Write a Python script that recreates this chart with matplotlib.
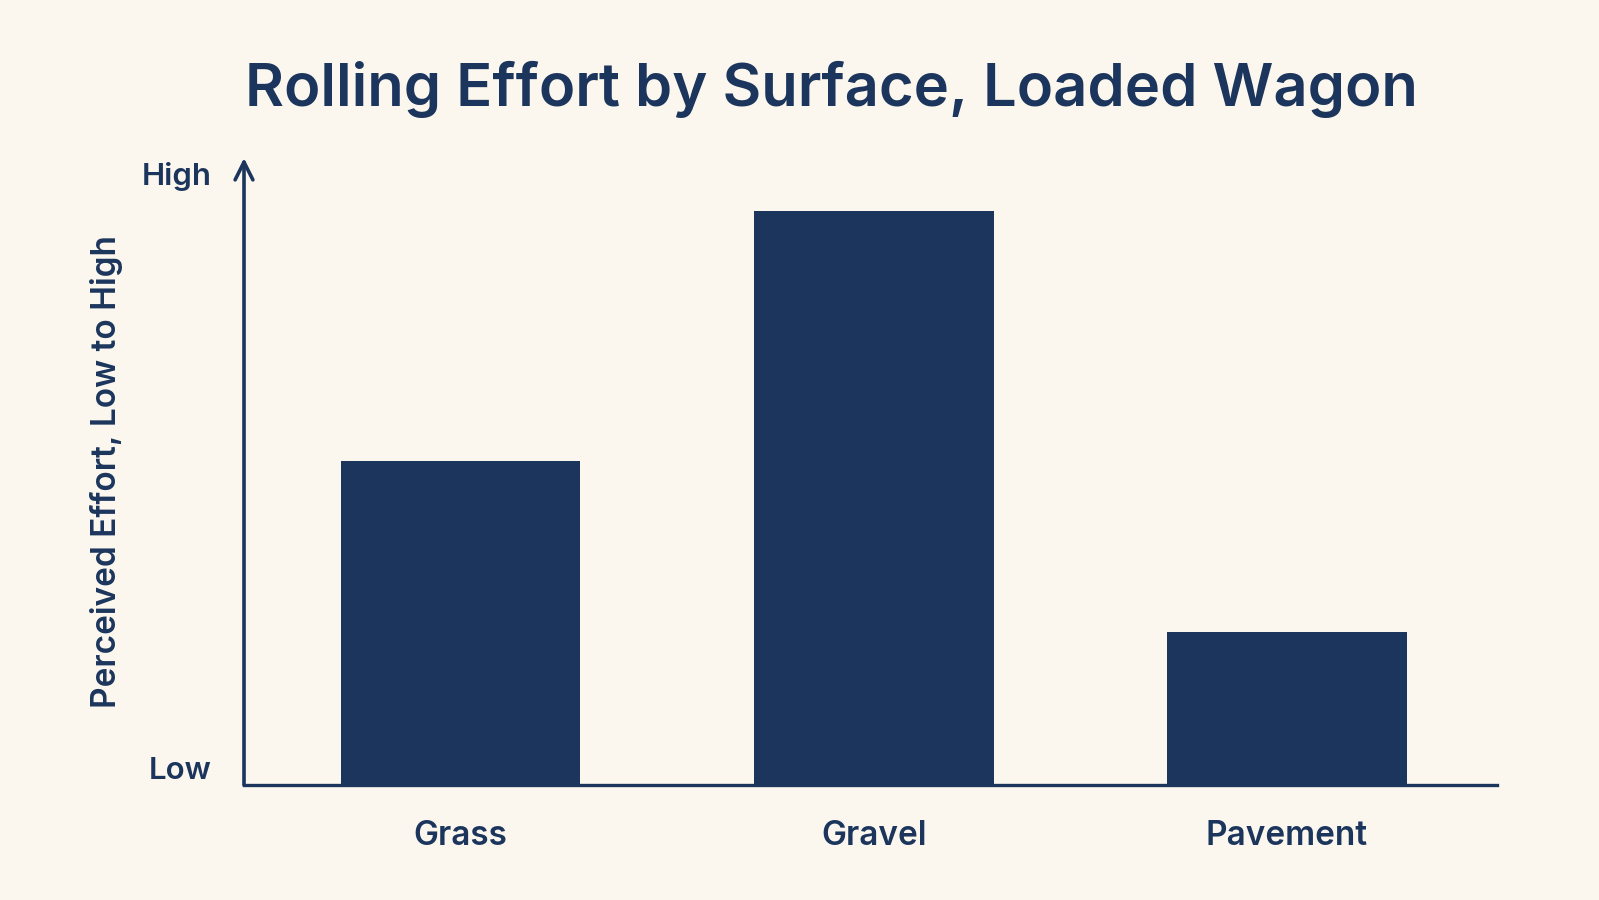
import matplotlib.pyplot as plt

surfaces = ['Grass', 'Gravel', 'Pavement']
effort = [5.3, 9.4, 2.5]
level_labels = ['Low', 'High']
level_pos = [0, 10]

navy = '#1b355c'
cream = '#fbf7ee'

plt.rcParams['font.family'] = ['Inter', 'DejaVu Sans']

fig = plt.figure(figsize=(15.99, 9), dpi=100, facecolor=cream)
ax = fig.add_axes([0.1526, 0.1278, 0.7836, 0.6966])
ax.set_facecolor(cream)

ax.bar(range(len(surfaces)), effort, width=0.58, color=navy)

ax.set_xlim(-0.524, 2.508)
ax.set_ylim(0, 10.26)

for s in ['top', 'right', 'left']:
    ax.spines[s].set_visible(False)
ax.spines['bottom'].set_color(navy)
ax.spines['bottom'].set_linewidth(2.4)

# y axis drawn as an arrow
ax.annotate('', xy=(0, 1.0), xytext=(0, 0), xycoords='axes fraction',
            arrowprops=dict(arrowstyle='->', color=navy, lw=2.6,
                            mutation_scale=32, shrinkA=0, shrinkB=0))

ax.set_xticks(range(len(surfaces)))
ax.set_xticklabels(surfaces, fontsize=24, color=navy, fontweight='semibold')
ax.tick_params(axis='x', length=0, pad=25)

ax.set_yticks(level_pos)
ax.set_yticklabels(level_labels, fontsize=22.5, color=navy, fontweight='semibold')
ax.tick_params(axis='y', length=0, pad=23)
ax.get_yticklabels()[0].set_va('bottom')

ax.set_ylabel('Perceived Effort, Low to High', fontsize=24, color=navy,
              fontweight='semibold', labelpad=14)

fig.suptitle('Rolling Effort by Surface, Loaded Wagon', x=0.52, y=0.932,
             fontsize=43, fontweight='semibold', color=navy)

fig.savefig('out.png', dpi=100, facecolor=cream)
